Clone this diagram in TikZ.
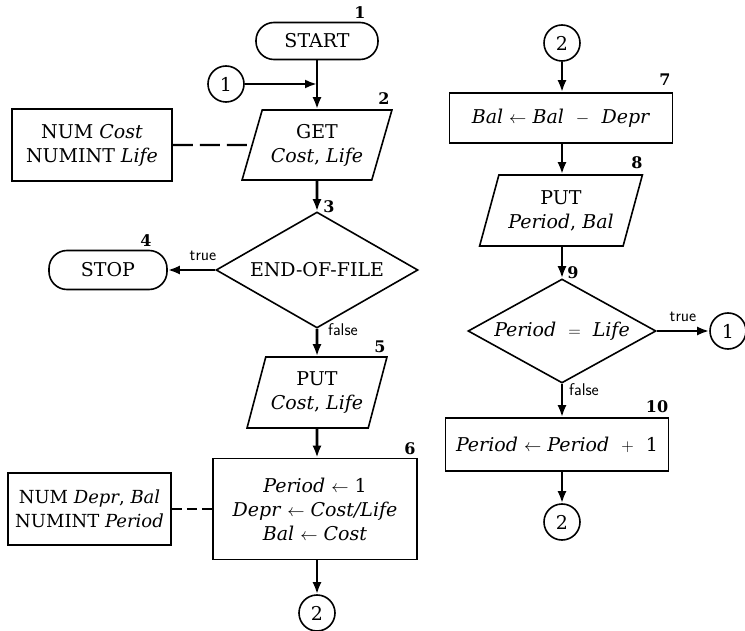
\documentclass[tikz,border=0pt]{standalone}
\usepackage{fontspec}
\setmainfont{DejaVu Serif}
\usetikzlibrary{shapes.geometric,arrows.meta}
\begin{document}
\begin{tikzpicture}[x=1pt,y=-1pt,
 every node/.style={font=\fontsize{19}{24}\selectfont, inner sep=0pt, align=center},
 box/.style={draw, line width=1.6pt, rectangle},
 term/.style={draw, line width=1.6pt, rectangle, rounded corners=18pt},
 para/.style={draw, line width=1.6pt, trapezium, trapezium left angle=68, trapezium right angle=112, trapezium stretches=true},
 dec/.style={draw, line width=1.6pt, diamond, shape aspect=2},
 conn/.style={draw, line width=1.6pt, circle, minimum size=36pt, font=\fontsize{19}{19}\selectfont},
 flow/.style={line width=2.8pt, -{Latex[length=12pt,width=9pt]}},
 dline/.style={line width=2.2pt, dash pattern=on 20pt off 7pt},
 dlineb/.style={line width=2.2pt, dash pattern=on 10pt off 5pt},
 num/.style={font=\fontsize{16}{16}\selectfont\bfseries},
 cond/.style={font=\fontsize{17}{17}\selectfont\sffamily}
]
\useasboundingbox (0,0) rectangle (745,631);

% left column
\node[term, minimum width=122pt, minimum height=37pt] (start) at (317,41) {START};
\node[conn] (c1a) at (226,84) {1};
\node[para, minimum width=150pt, minimum height=70pt] (get) at (317,145) {GET\\\textit{Cost}, \textit{Life}};
\node[box, minimum width=160pt, minimum height=72pt] (decl1) at (92,145) {NUM \textit{Cost}\\NUMINT \textit{Life}};
\node[dec, minimum width=202pt, minimum height=116pt] (dec3) at (317,270) {END-OF-FILE};
\node[term, minimum width=118pt, minimum height=39pt] (stop) at (108,270) {STOP};
\node[para, minimum width=140pt, minimum height=71pt] (put5) at (317,392.5) {PUT\\\textit{Cost}, \textit{Life}};
\node[box, minimum width=204pt, minimum height=101pt] (box6) at (315,509) {\textit{Period} $\leftarrow$ 1\\\textit{Depr} $\leftarrow$ \textit{Cost/Life}\\\textit{Bal} $\leftarrow$ \textit{Cost}};
\node[box, minimum width=163pt, minimum height=72pt, font=\fontsize{18}{24}\selectfont] (decl2) at (89.5,509) {NUM \textit{Depr}, \textit{Bal}\\NUMINT \textit{Period}};
\node[conn] (c2a) at (317,613) {2};

% right column
\node[conn] (c2b) at (562,43) {2};
\node[box, minimum width=223pt, minimum height=50pt] (box7) at (561,118) {\textit{Bal} $\leftarrow$ \textit{Bal} \ $-$ \ \textit{Depr}};
\node[para, minimum width=163pt, minimum height=71pt] (put8) at (561,210.5) {PUT\\\textit{Period}, \textit{Bal}};
\node[dec, minimum width=188pt, minimum height=104pt] (dec9) at (562,331) {\textit{Period} \ $=$ \ \textit{Life}};
\node[conn] (c1b) at (728,331) {1};
\node[box, minimum width=223pt, minimum height=53pt] (box10) at (557,444.5) {\textit{Period} $\leftarrow$ \textit{Period} \ $+$ \ 1};
\node[conn] (c2c) at (562,522) {2};

% step numbers
\node[num] (n1) at (360,13) {1};
\node[num] (n2) at (384,99) {2};
\node[num] (n3) at (329,207) {3};
\node[num] (n4) at (146,241) {4};
\node[num] (n5) at (380,347) {5};
\node[num] (n6) at (410,449) {6};
\node[num] (n7) at (665,80) {7};
\node[num] (n8) at (637,163) {8};
\node[num] (n9) at (573,273) {9};
\node[num] (n10) at (657,407) {10};

% condition labels
\node[cond] (t3) at (203,256) {true};
\node[cond, anchor=west] (f3) at (328,330) {false};
\node[cond] (t9) at (683,317) {true};
\node[cond, anchor=west] (f9) at (569,390) {false};

% connectors
\draw[flow] (start) -- (get);
\draw[flow] (c1a) -- (c1a -| start);
\draw[flow] (get) -- (dec3);
\draw[flow] (dec3.west) -- (stop.east);
\draw[flow] (dec3.south) -- (put5);
\draw[flow] (put5) -- (box6.north -| put5);
\draw[flow] (box6.south -| c2a) -- (c2a);
\draw[dline] (decl1.east) -- (get.west);
\draw[dlineb] (decl2.east) -- (box6.west);

\draw[flow] (c2b) -- (box7.north -| c2b);
\draw[flow] (box7.south -| c2b) -- (put8.north -| c2b);
\draw[flow] (put8.south -| dec9) -- (dec9.north);
\draw[flow] (dec9.east) -- (c1b);
\draw[flow] (dec9.south) -- (box10.north -| dec9);
\draw[flow] (box10.south -| c2c) -- (c2c);
\end{tikzpicture}
\end{document}
